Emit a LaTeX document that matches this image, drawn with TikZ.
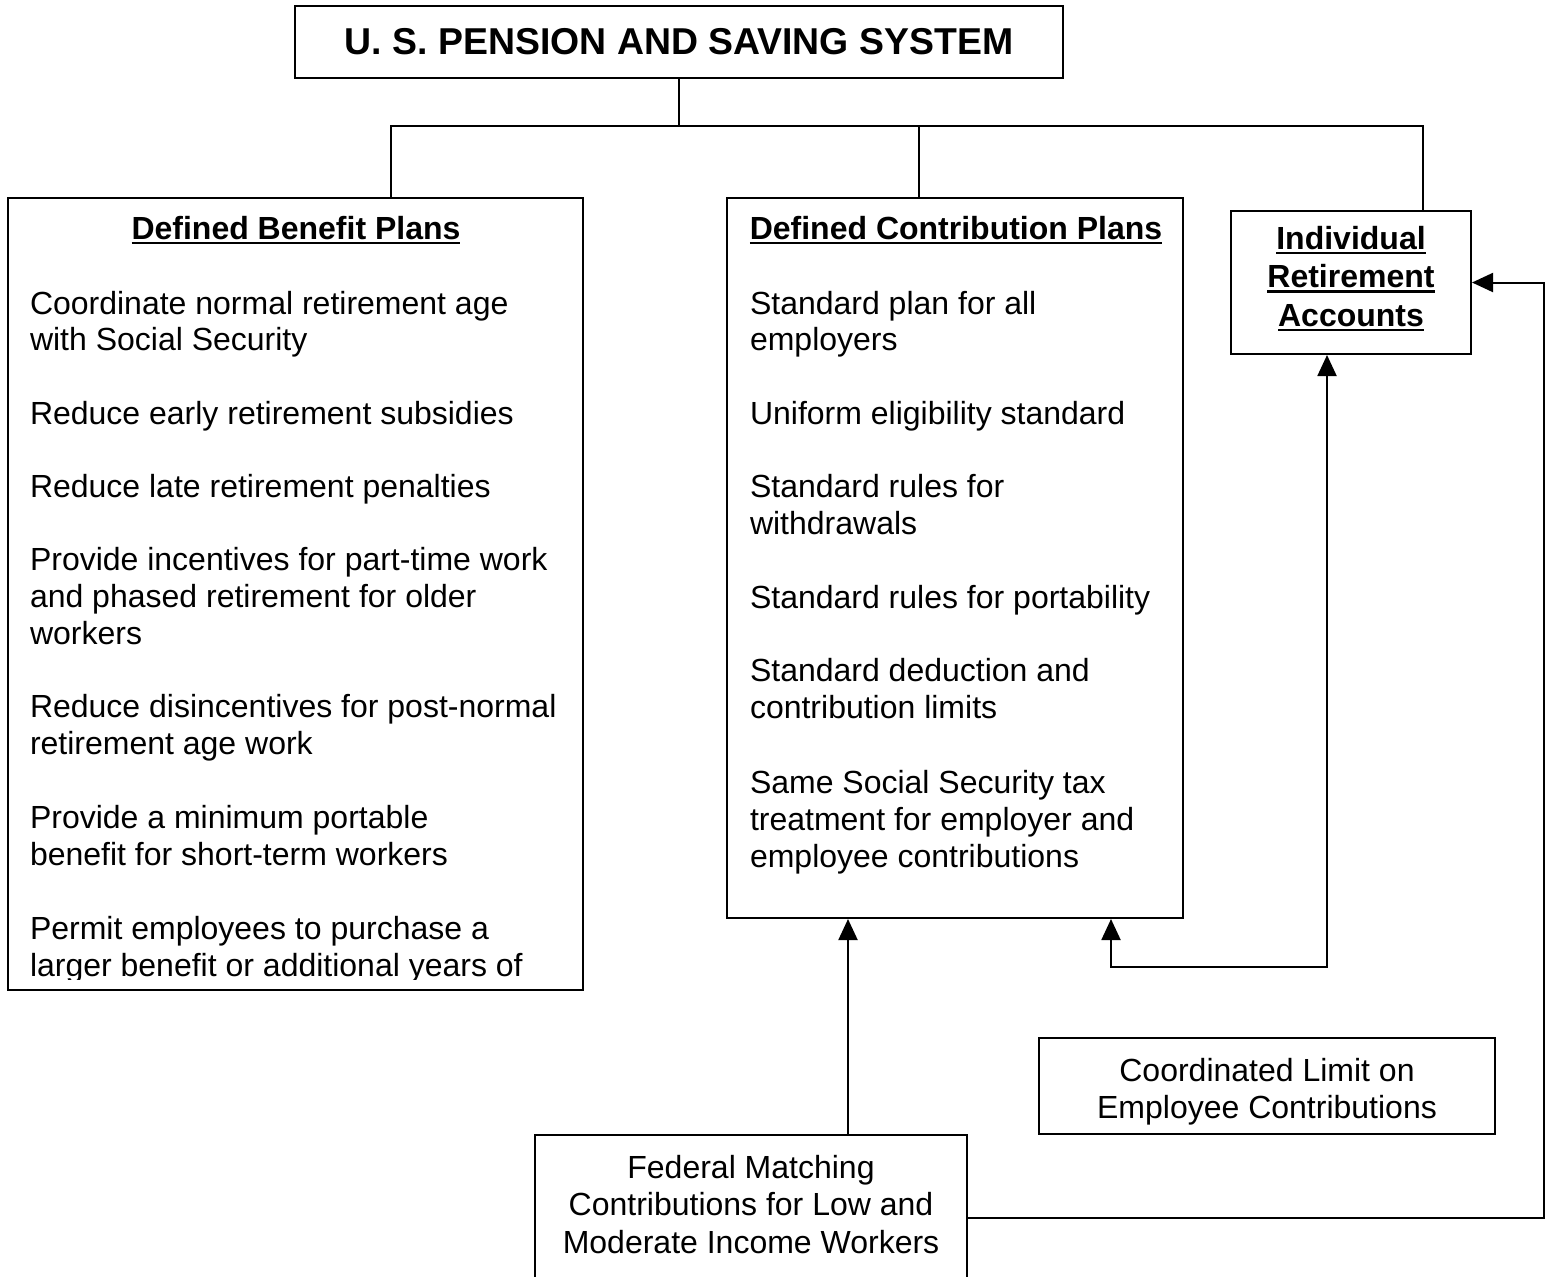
\documentclass[tikz,border=0pt]{standalone}
\usepackage{fontspec}
\setmainfont{Liberation Sans}
\usepackage{tikz}
\usetikzlibrary{arrows.meta, positioning}

% bold heading with a heavy underline
\newcommand{\hdul}[1]{\setbox0\hbox{#1}\rlap{\rule[-2.6pt]{\wd0}{1.3pt}}\box0}

\begin{document}
\begin{tikzpicture}[x=0.5pt, y=-0.5pt, line width=1pt,
    font=\fontsize{16pt}{18.35pt}\selectfont,
    box/.style={draw, rectangle, inner sep=0pt},
    item/.style={anchor=base west, align=left, inner sep=0pt},
    head/.style={anchor=base, inner sep=0pt, font=\fontsize{16pt}{18.35pt}\selectfont\bfseries},
    arr/.style={-{Triangle[length=10.5pt, width=9.5pt]}},
    dblarr/.style={{Triangle[length=10.5pt, width=9.5pt]}-{Triangle[length=10.5pt, width=9.5pt]}}]
    \clip (0,0) rectangle (1551,1276);

    \node[box, minimum width=384pt, minimum height=36pt, font=\fontsize{18.7pt}{22pt}\selectfont\bfseries] (title) at (679,42) {U. S. PENSION AND SAVING SYSTEM};

    \node[box, minimum width=287.5pt, minimum height=396pt] (db) at (295.5,594) {};
    \node[box, minimum width=228pt, minimum height=360pt] (dc) at (955,558) {};
    \node[box, minimum width=120pt, text height=57.5pt, text depth=14pt, align=center, font=\fontsize{16pt}{19.25pt}\selectfont\bfseries] (ira) at (1351,282.5) {\hdul{Individual}\\\hdul{Retirement}\\\hdul{Accounts}};
    \node[box, minimum width=228pt, text height=40pt, text depth=8pt, align=center, font=\fontsize{16pt}{18.5pt}\selectfont] (limit) at (1267,1086) {Coordinated Limit on\\Employee Contributions};
    \node[box, anchor=north, minimum width=216pt, text height=59pt, text depth=40pt, align=center, font=\fontsize{16pt}{18.75pt}\selectfont] (fed) at (751,1134) {Federal Matching\\Contributions for Low and\\Moderate Income Workers};

    % defined benefit plans (nodes sit on the baseline of their last line)
    \node[head] (dbhead) at (296,239) {\hdul{Defined Benefit Plans}};
    \begin{scope}
        \clip (db.north west) rectangle ([yshift=6pt]db.south east);
        \node[item] (db1) at (29,350.7) {Coordinate normal retirement age\\with Social Security};
        \node[item] (db2) at (29,424) {Reduce early retirement subsidies};
        \node[item] (db3) at (29,497.5) {Reduce late retirement penalties};
        \node[item] (db4) at (29,644) {Provide incentives for part-time work\\and phased retirement for older\\workers};
        \node[item] (db5) at (29,754) {Reduce disincentives for post-normal\\retirement age work};
        \node[item] (db6) at (29,865) {Provide a minimum portable\\benefit for short-term workers};
        \node[item] (db7) at (29,976) {Permit employees to purchase a\\larger benefit or additional years of};
    \end{scope}

    % defined contribution plans
    \node[head] (dchead) at (956,239) {\hdul{Defined Contribution Plans}};
    \node[item] (dc1) at (749,350.7) {Standard plan for all\\employers};
    \node[item] (dc2) at (749,424) {Uniform eligibility standard};
    \node[item] (dc3) at (749,534) {Standard rules for\\withdrawals};
    \node[item] (dc4) at (749,608) {Standard rules for portability};
    \node[item] (dc5) at (749,718) {Standard deduction and\\contribution limits};
    \node[item] (dc6) at (749,867) {Same Social Security tax\\treatment for employer and\\employee contributions};

    % tree
    \coordinate (bus) at (679,126);
    \coordinate (dbtop) at ([xshift=47.75pt]db.north);
    \coordinate (dctop) at ([xshift=-18pt]dc.north);
    \coordinate (iratop) at ([xshift=36pt]ira.north);
    \draw (title.south) -- (bus);
    \draw (dbtop) -- (dbtop |- bus) -- (iratop |- bus) -- (iratop);
    \draw (dctop) -- (dctop |- bus);

    % arrows
    \coordinate (dcfoot) at ([xshift=78pt]dc.south);
    \coordinate (irafoot) at ([xshift=-12pt]ira.south);
    \coordinate (fedtop) at ([xshift=48.5pt]fed.north);
    \coordinate (fedright) at ([yshift=-42pt]fed.north east);
    \draw[arr] (fedtop) -- (fedtop |- dc.south);
    \draw[dblarr] (dcfoot) -- ++(0,-24pt) -| (irafoot);
    \draw[arr] (fedright) -- ++(288pt,0) |- (ira.east);
\end{tikzpicture}
\end{document}
